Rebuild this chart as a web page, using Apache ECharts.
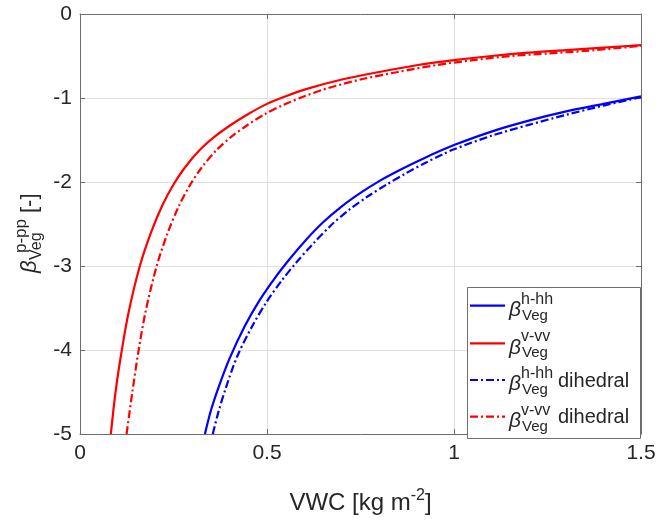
<!DOCTYPE html>
<html>
<head>
<meta charset="utf-8">
<script src="https://cdn.jsdelivr.net/npm/echarts@6/dist/echarts.min.js"></script>
<style>
html,body{margin:0;padding:0;background:#fff;}
#chart{width:670px;height:520px;}
</style>
</head>
<body>
<div id="chart"></div>
<script>
// ---- data ----
const xTicks = [0, 0.5, 1, 1.5];
const yTicks = [-5, -4, -3, -2, -1, 0];

// beta^{h-hh}_{Veg} (blue solid)
const vwcHH = [0.334, 0.35, 0.37, 0.40, 0.44, 0.48, 0.52, 0.56, 0.60, 0.65, 0.70, 0.75, 0.80, 0.85, 0.90, 0.95, 1.0, 1.1, 1.2, 1.3, 1.4, 1.5];
const betaHH = [-5.0, -4.72, -4.45, -4.10, -3.72, -3.41, -3.15, -2.92, -2.71, -2.48, -2.29, -2.13, -1.99, -1.87, -1.76, -1.655, -1.56, -1.40, -1.27, -1.16, -1.07, -0.98];

// beta^{v-vv}_{Veg} (red solid)
const vwcVV = [0.0825, 0.095, 0.11, 0.13, 0.16, 0.19, 0.22, 0.25, 0.28, 0.32, 0.36, 0.40, 0.45, 0.50, 0.55, 0.60, 0.70, 0.80, 0.90, 1.0, 1.1, 1.2, 1.3, 1.4, 1.5];
const betaVV = [-5.0, -4.5, -4.05, -3.55, -3.0, -2.6, -2.28, -2.03, -1.83, -1.62, -1.46, -1.33, -1.19, -1.07, -0.98, -0.90, -0.78, -0.69, -0.61, -0.55, -0.50, -0.46, -0.43, -0.40, -0.37];

// beta^{h-hh}_{Veg} dihedral (blue dash-dot)
const vwcHHd = [0.355, 0.37, 0.39, 0.42, 0.46, 0.50, 0.54, 0.58, 0.62, 0.67, 0.72, 0.77, 0.82, 0.87, 0.92, 0.97, 1.0, 1.1, 1.2, 1.3, 1.4, 1.5];
const betaHHd = [-5.0, -4.74, -4.45, -4.08, -3.72, -3.42, -3.17, -2.95, -2.75, -2.52, -2.33, -2.17, -2.03, -1.90, -1.78, -1.67, -1.61, -1.45, -1.32, -1.20, -1.09, -0.99];

// beta^{v-vv}_{Veg} dihedral (red dash-dot)
const vwcVVd = [0.1245, 0.14, 0.155, 0.175, 0.205, 0.235, 0.265, 0.295, 0.325, 0.365, 0.405, 0.445, 0.495, 0.545, 0.60, 0.65, 0.75, 0.85, 0.95, 1.05, 1.15, 1.25, 1.35, 1.5];
const betaVVd = [-5.0, -4.5, -4.05, -3.55, -3.0, -2.6, -2.28, -2.03, -1.83, -1.62, -1.46, -1.33, -1.19, -1.08, -0.98, -0.90, -0.78, -0.69, -0.61, -0.55, -0.50, -0.47, -0.44, -0.38];

const legendSup = ['h-hh', 'v-vv', 'h-hh', 'v-vv'];
const legendSuffix = ['', '', 'dihedral', 'dihedral'];
const xLabelMain = 'VWC [kg m';
const xLabelSup = '-2';

// ---- styling ----
const BLUE = '#0000ff', RED = '#ff0000';
const DASHDOT = [8, 3, 2, 3];
const FONT = 'Liberation Sans, Arial, Helvetica, sans-serif';
const AX = '#6e6e6e', TXT = '#262626', GRID = '#e0e0e0';

function pairs(xs, ys) { return xs.map((x, i) => [x, ys[i]]); }

const seriesDefs = [
  { x: vwcHH, y: betaHH, color: BLUE, type: 'solid' },
  { x: vwcVV, y: betaVV, color: RED, type: 'solid' },
  { x: vwcHHd, y: betaHHd, color: BLUE, type: DASHDOT },
  { x: vwcVVd, y: betaVVd, color: RED, type: DASHDOT }
];

const chart = echarts.init(document.getElementById('chart'), null, { renderer: 'canvas' });

const baseX = {
  type: 'value', min: xTicks[0], max: xTicks[xTicks.length - 1], interval: xTicks[1] - xTicks[0],
  axisLine: { show: true, onZero: false, lineStyle: { color: AX, width: 1 } },
  axisTick: { show: true, inside: true, length: 5, lineStyle: { color: AX } }
};
const baseY = {
  type: 'value', min: yTicks[0], max: yTicks[yTicks.length - 1], interval: yTicks[1] - yTicks[0],
  axisLine: { show: true, onZero: false, lineStyle: { color: AX, width: 1 } },
  axisTick: { show: true, inside: true, length: 5, lineStyle: { color: AX } }
};

// legend graphic
const LX = 467, LY = 287, LW = 173, LH = 151;
const rowY = [305.7, 343.3, 380, 416.7];
const legendColors = [BLUE, RED, BLUE, RED];
const legendTypes = ['solid', 'solid', DASHDOT, DASHDOT];
const legendEls = [{
  type: 'rect', shape: { x: LX + 0.5, y: LY + 0.5, width: LW, height: LH },
  style: { fill: '#fff', stroke: AX, lineWidth: 1 }, z: 100
}];
rowY.forEach((ry, i) => {
  legendEls.push({
    type: 'line', shape: { x1: 470, y1: ry, x2: 505, y2: ry },
    style: { stroke: legendColors[i], lineWidth: 2.2, lineDash: legendTypes[i] === 'solid' ? null : DASHDOT }, z: 101
  });
  legendEls.push({ type: 'text', x: 509, y: ry + 4.5, z: 101,
    style: { text: 'β', font: 'italic 21px ' + FONT, fill: TXT, verticalAlign: 'middle', align: 'left' } });
  legendEls.push({ type: 'text', x: 521, y: ry - 6.5, z: 101,
    style: { text: legendSup[i], font: '16px ' + FONT, fill: TXT, verticalAlign: 'middle', align: 'left' } });
  legendEls.push({ type: 'text', x: 522, y: ry + 9.8, z: 101,
    style: { text: 'Veg', font: '15px ' + FONT, fill: TXT, verticalAlign: 'middle', align: 'left' } });
  if (legendSuffix[i]) {
    legendEls.push({ type: 'text', x: 558, y: ry + 1, z: 101,
      style: { text: legendSuffix[i], font: '20px ' + FONT, fill: TXT, verticalAlign: 'middle', align: 'left' } });
  }
});

// y-axis label (rotated group)
const yLabel = {
  type: 'group', x: 0, y: 275, rotation: Math.PI / 2, z: 50,
  children: [
    { type: 'text', x: 2, y: 30, style: { text: 'β', font: 'italic 22px ' + FONT, fill: TXT, verticalAlign: 'middle', align: 'left' } },
    { type: 'text', x: 22, y: 21, style: { text: 'p-pp', font: '17px ' + FONT, fill: TXT, verticalAlign: 'middle', align: 'left' } },
    { type: 'text', x: 15, y: 37, style: { text: 'Veg', font: '16px ' + FONT, fill: TXT, verticalAlign: 'middle', align: 'left' } },
    { type: 'text', x: 62, y: 30, style: { text: '[-]', font: '22px ' + FONT, fill: TXT, verticalAlign: 'middle', align: 'left' } }
  ]
};

const option = {
  animation: false,
  backgroundColor: '#fff',
  grid: { left: 80, right: 29, top: 14, bottom: 72, containLabel: false },
  xAxis: [
    Object.assign({}, baseX, {
      position: 'bottom',
      axisLabel: { show: true, margin: 9, color: TXT, fontSize: 21, fontFamily: FONT },
      splitLine: { show: true, lineStyle: { color: GRID, width: 1 } },
      name: '{n|' + xLabelMain + '}{s|' + xLabelSup + '}{n|]}',
      nameLocation: 'middle', nameGap: 54,
      nameTextStyle: {
        rich: {
          n: { fontSize: 24, fontFamily: FONT, color: TXT, lineHeight: 30 },
          s: { fontSize: 16, fontFamily: FONT, color: TXT, lineHeight: 16, verticalAlign: 'top' }
        }
      }
    }),
    Object.assign({}, baseX, {
      position: 'top',
      axisLabel: { show: false },
      splitLine: { show: false }
    })
  ],
  yAxis: [
    Object.assign({}, baseY, {
      position: 'left',
      axisLabel: { show: true, margin: 8, color: TXT, fontSize: 21, fontFamily: FONT },
      splitLine: { show: true, lineStyle: { color: GRID, width: 1 } }
    }),
    Object.assign({}, baseY, {
      position: 'right',
      axisLabel: { show: false },
      splitLine: { show: false }
    })
  ],
  series: seriesDefs.map(s => ({
    type: 'line',
    xAxisIndex: 0, yAxisIndex: 0,
    data: pairs(s.x, s.y),
    showSymbol: false, symbol: 'none',
    smooth: 0.3,
    clip: true,
    lineStyle: { color: s.color, width: 2.2, type: s.type },
    z: 3
  })),
  graphic: legendEls.concat([yLabel])
};

chart.setOption(option);
</script>
</body>
</html>
